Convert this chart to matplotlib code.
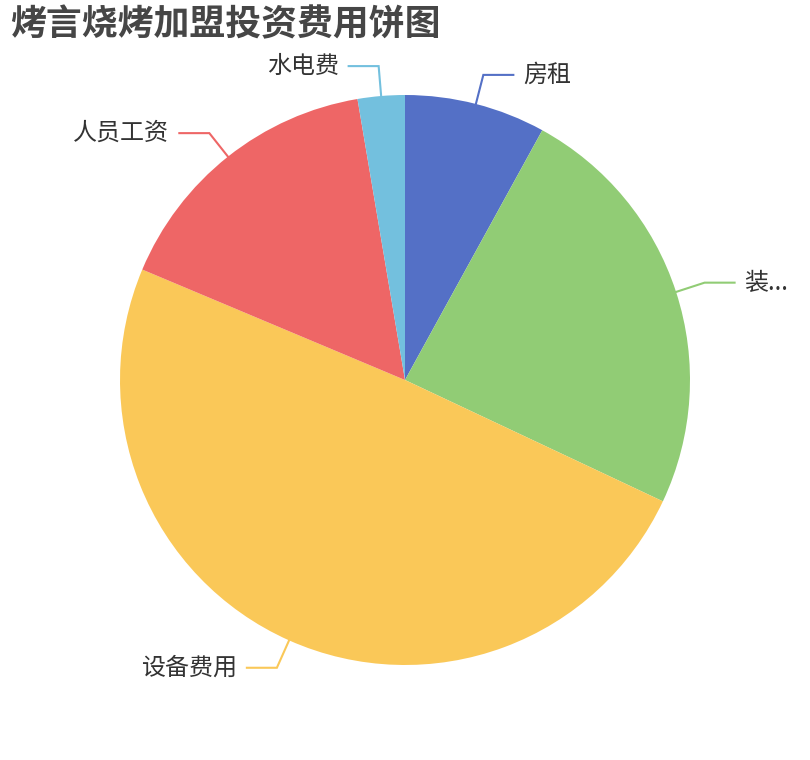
import matplotlib
matplotlib.use("Agg")
import matplotlib.pyplot as plt
import numpy as np

plt.rcParams["font.family"] = ["Noto Sans CJK SC", "DejaVu Sans"]

# Investment items (万元)
categories = ["房租", "装修费用", "设备费用", "人员工资", "水电费"]
values = [3, 9, 18.5, 6, 1]
colors = ["#5470c6", "#91cc75", "#fac858", "#ee6666", "#73c0de"]
title = "烤言烧烤加盟投资费用饼图"

W, H = 810, 760
CX, CY, R = 405, 380, 285
LABEL_PX = 24  # approx glyph width of a label character in pixels


def fit_label(text, x_start, direction):
    """Truncate label with '...' if it would run off the canvas."""
    room = (W - x_start) if direction > 0 else x_start
    if len(text) * LABEL_PX <= room:
        return text
    n = max(1, int((room - LABEL_PX) // LABEL_PX))
    return text[:n] + "..."


fig = plt.figure(figsize=(W / 100, H / 100), dpi=100)
ax = fig.add_axes([0, 0, 1, 1])

wedges, _ = ax.pie(values, colors=colors, startangle=90, counterclock=False,
                   center=(CX, H - CY), radius=R,
                   wedgeprops=dict(linewidth=0))

# pie() resets the limits, so set the pixel frame afterwards
ax.set_xlim(0, W)
ax.set_ylim(0, H)
ax.set_aspect("equal")
ax.axis("off")

for w, name, c in zip(wedges, categories, colors):
    ang = np.deg2rad((w.theta1 + w.theta2) / 2)
    ux, uy = np.cos(ang), np.sin(ang)
    x0, y0 = CX + R * ux, (H - CY) + R * uy
    x1, y1 = CX + (R + 30) * ux, (H - CY) + (R + 30) * uy
    side = 1 if ux >= 0 else -1
    x2 = x1 + side * 30
    ax.plot([x0, x1, x2], [y0, y1, y1], color=c, linewidth=1.5,
            solid_joinstyle="miter")
    tx = x2 + side * 10
    ax.text(tx, y1, fit_label(name, tx, side), ha="left" if side > 0 else "right",
            va="center", fontsize=17.3, color="#333333")

fig.text(10 / W, 1 - 25 / H, title, ha="left", va="center", fontsize=25.8,
         fontweight="bold", color="#464646")

fig.savefig("out.png", dpi=100)
plt.close(fig)
